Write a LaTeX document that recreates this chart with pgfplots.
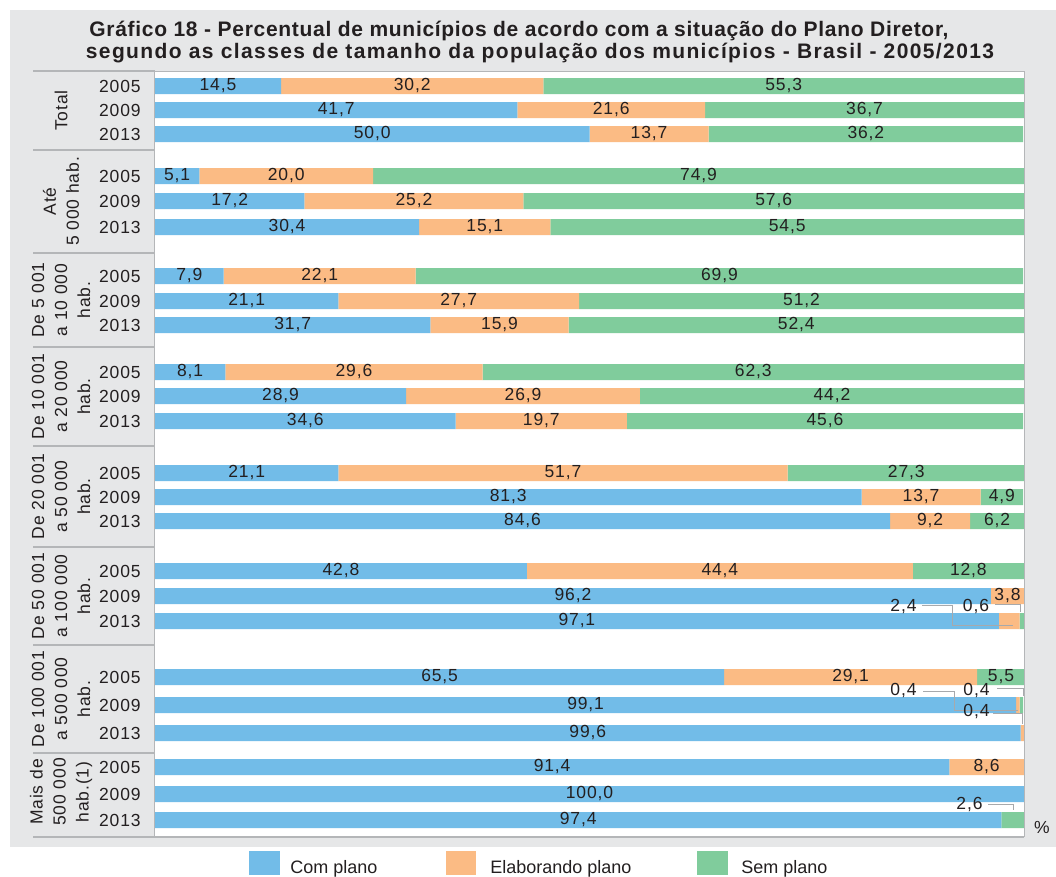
\documentclass[border=0pt]{standalone}
\usepackage{pgfplots}
\pgfplotsset{compat=1.18}
\usepackage{pgfplotstable}
\usepackage{fontspec}
\setmainfont{Liberation Sans}
\newfontfamily\lsp[LetterSpace=5]{Liberation Sans}
\newfontfamily\titA[LetterSpace=3.3]{Liberation Sans}
\newfontfamily\titB[LetterSpace=6.6]{Liberation Sans}
\definecolor{cblue}{HTML}{72BCE8}
\definecolor{corange}{HTML}{FBBB84}
\definecolor{cgreen}{HTML}{80CC9C}
\definecolor{bgg}{HTML}{E6E7E8}
\definecolor{sepg}{HTML}{B4B6B8}
\definecolor{txt}{HTML}{231F20}
\definecolor{lead}{HTML}{A7A9AC}

\pgfplotstableread{
y    com   ela   sem
86   14.5  30.2  55.3
110  41.7  21.6  36.7
134  50.0  13.7  36.2
176  5.1   20.0  74.9
201  17.2  25.2  57.6
227  30.4  15.1  54.5
276  7.9   22.1  69.9
301  21.1  27.7  51.2
325  31.7  15.9  52.4
372  8.1   29.6  62.3
396  28.9  26.9  44.2
421  34.6  19.7  45.6
473  21.1  51.7  27.3
497  81.3  13.7  4.9
521  84.6  9.2   6.2
571  42.8  44.4  12.8
596  96.2  3.8   0.0
621  97.1  2.4   0.6
677  65.5  29.1  5.5
705  99.1  0.4   0.4
733  99.6  0.4   0.0
767  91.4  8.6   0.0
794  100.0 0.0   0.0
820  97.4  0.0   2.6
}\datatable

\pgfplotsset{chartbase/.style={
  at={(77.5pt,-418.5pt)}, anchor=south west,
  scale only axis, width=434.5pt, height=383pt,
  xmin=0, xmax=100, ymin=-837, ymax=-71,
}}
\newcommand{\lblfont}{\lsp\fontsize{8.75}{11.5}\selectfont}

\begin{document}
\begin{tikzpicture}
\begin{scope}[x=0.5pt,y=-0.5pt]
\fill[white] (0,0) rectangle (1056,875);
\fill[bgg] (10,10) rectangle (1056,847);
\fill[white] (155,71) rectangle (1024,837);
\end{scope}

\begin{axis}[chartbase, xbar stacked, bar width=16,
  axis line style={draw=none}, xtick=\empty,
  ytick={-86,-110,-134,-176,-201,-227,-276,-301,-325,-372,-396,-421,-473,-497,-521,-571,-596,-621,-677,-705,-733,-767,-794,-820},
  yticklabels={2005,2009,2013,2005,2009,2013,2005,2009,2013,2005,2009,2013,2005,2009,2013,2005,2009,2013,2005,2009,2013,2005,2009,2013},
  major tick length=0pt,
  yticklabel style={font=\lblfont, text=txt, inner sep=0pt, xshift=-7pt}]
\addplot[fill=cblue, draw=none] table[x=com, y expr=-\thisrow{y}] {\datatable};
\addplot[fill=corange, draw=none] table[x=ela, y expr=-\thisrow{y}] {\datatable};
\addplot[fill=cgreen, draw=none] table[x=sem, y expr=-\thisrow{y}] {\datatable};
\end{axis}

\begin{axis}[chartbase, hide axis, clip=false,
  nodes near coords={\pgfmathprintnumber[fixed,fixed zerofill,precision=1,use comma,assume math mode=true]{\pgfplotspointmeta}},
  every node near coord/.append style={anchor=center, font=\lblfont, text=txt, inner sep=0pt}]
\addplot[draw=none, mark=none, point meta=\thisrow{com}, restrict expr to domain={\thisrow{com}}{3:200}]
  table[x expr=\thisrow{com}/2, y expr=-\thisrow{y}] {\datatable};
\addplot[draw=none, mark=none, point meta=\thisrow{ela}, restrict expr to domain={\thisrow{ela}}{3:200}]
  table[x expr=\thisrow{com}+\thisrow{ela}/2, y expr=-\thisrow{y}] {\datatable};
\addplot[draw=none, mark=none, point meta=\thisrow{sem}, restrict expr to domain={\thisrow{sem}}{3:200}]
  table[x expr=\thisrow{com}+\thisrow{ela}+\thisrow{sem}/2, y expr=-\thisrow{y}] {\datatable};
\end{axis}

\begin{scope}[x=0.5pt,y=-0.5pt]
% borders and separators
\draw[sepg, line width=0.5pt] (155,71) -- (1024,71) -- (1024,837);
\draw[sepg, line width=0.85pt] (33,837) -- (1024,837);
\draw[sepg, line width=0.85pt] (154.5,71) -- (154.5,837);
\foreach \yy in {71,150,253,347,446,547,645,753}
  \draw[sepg, line width=0.85pt] (33,\yy) -- (154.5,\yy);
% group labels
\begin{scope}[every node/.style={rotate=90, align=center, font=\lblfont, text=txt, inner sep=0pt}]
\node at (61,110.5) {Total};
\node at (61,201.5) {Até\\5 000 hab.};
\node at (61,300) {De 5 001\\a 10 000\\hab.};
\node at (61,396.5) {De 10 001\\a 20 000\\hab.};
\node at (61,496.5) {De 20 001\\a 50 000\\hab.};
\node at (61,596) {De 50 001\\a 100 000\\hab.};
\node at (61,699) {De 100 001\\a 500 000\\hab.};
\node at (61,792) {Mais de\\500 000\\hab.(1)};
\end{scope}
% leader lines and small labels
\draw[lead, line width=0.5pt] (922,605) -- (952,605) -- (952,625) -- (1013,625);
\draw[lead, line width=0.5pt] (995,604) -- (1020,604) -- (1020,612);
\draw[lead, line width=0.5pt] (923,691) -- (954,691) -- (954,710) -- (1018,710);
\draw[lead, line width=0.5pt] (997,688) -- (1023,688) -- (1023,696);
\draw[lead, line width=0.5pt] (993,713) -- (1022,713) -- (1022,724);
\draw[lead, line width=0.5pt] (988,804) -- (1013,804) -- (1013,810);
\begin{scope}[every node/.style={font=\lblfont, text=txt, inner sep=0pt}]
\node at (903.5,607) {2,4};
\node at (976,607) {0,6};
\node at (903.5,691) {0,4};
\node at (976.5,691) {0,4};
\node at (976.5,712) {0,4};
\node at (969.5,804.5) {2,6};
\node at (1042,827) {\%};
\end{scope}
% title
\node[anchor=base, font=\titA\bfseries\fontsize{10.5}{11}\selectfont, text=txt, inner sep=0pt] at (519,36) {Gráfico 18 - Percentual de municípios de acordo com a situação do Plano Diretor,};
\node[anchor=base, font=\titB\bfseries\fontsize{10.5}{11}\selectfont, text=txt, inner sep=0pt] at (540,58) {segundo as classes de tamanho da população dos municípios - Brasil - 2005/2013};
% legend
\fill[cblue] (249,851) rectangle (280,875);
\fill[corange] (446,851) rectangle (476,875);
\fill[cgreen] (697,851) rectangle (728,875);
\begin{scope}[every node/.style={anchor=base west, font=\fontsize{9}{11}\selectfont, text=txt, inner sep=0pt}]
\node at (290,873) {Com plano};
\node at (490,873) {Elaborando plano};
\node at (741,873) {Sem plano};
\end{scope}
\end{scope}
\end{tikzpicture}
\end{document}
